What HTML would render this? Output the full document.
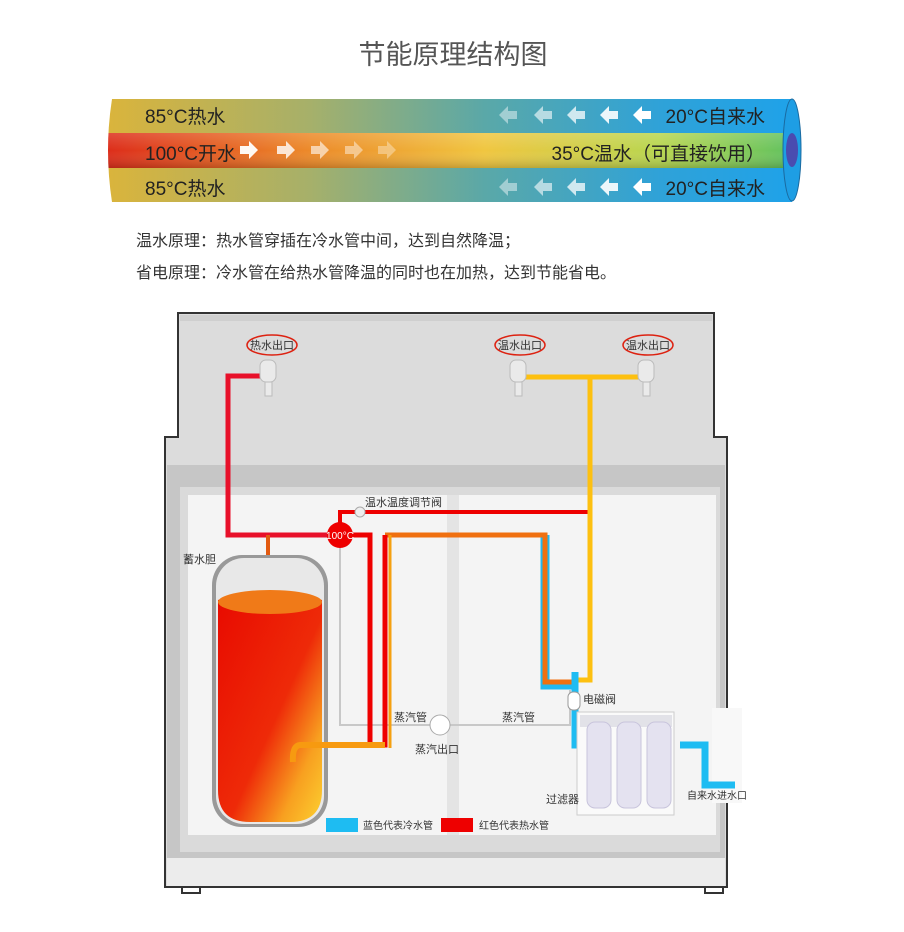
<!DOCTYPE html>
<html><head><meta charset="utf-8"><style>
body{margin:0;background:#fff;width:904px;height:927px;overflow:hidden;font-family:"Liberation Sans","Noto Sans CJK SC",sans-serif}
</style></head><body>
<svg width="904" height="927" viewBox="0 0 904 927" xmlns="http://www.w3.org/2000/svg" font-family="Liberation Sans, Noto Sans CJK SC, sans-serif">
<defs>
<linearGradient id="gt" x1="0" x2="1" y1="0" y2="0">
<stop offset="0" stop-color="#dcb43a"/><stop offset="0.3" stop-color="#a6b06a"/><stop offset="0.55" stop-color="#5aa8a8"/><stop offset="0.8" stop-color="#2fa2d8"/><stop offset="1" stop-color="#1ea2ea"/></linearGradient>
<linearGradient id="gm" x1="0" x2="1" y1="0" y2="0">
<stop offset="0" stop-color="#dc2a1a"/><stop offset="0.3" stop-color="#ec8a2a"/><stop offset="0.55" stop-color="#f0c640"/><stop offset="0.8" stop-color="#b8d650"/><stop offset="1" stop-color="#5cc060"/></linearGradient>
<linearGradient id="gmv" x1="0" x2="0" y1="0" y2="1">
<stop offset="0" stop-color="#fff" stop-opacity="0.15"/><stop offset="0.5" stop-color="#fff" stop-opacity="0"/><stop offset="1" stop-color="#000" stop-opacity="0.18"/></linearGradient>
<linearGradient id="tank" x1="0" x2="1" y1="0" y2="1">
<stop offset="0" stop-color="#e80a00"/><stop offset="0.55" stop-color="#ee2a08"/><stop offset="0.8" stop-color="#f8a020"/><stop offset="1" stop-color="#fcd030"/></linearGradient>
<clipPath id="bc"><path d="M112 99 L792 99 L792 202 L112 202 Q104 150 112 99 Z"/></clipPath>
</defs>
<text x="453" y="64" font-size="27" fill="#555" text-anchor="middle">节能原理结构图</text>
<g clip-path="url(#bc)">
<rect x="100" y="99" width="700" height="35" fill="url(#gt)"/>
<rect x="100" y="133" width="700" height="35" fill="url(#gm)"/>
<rect x="100" y="133" width="700" height="35" fill="url(#gmv)"/>
<rect x="100" y="168" width="700" height="34" fill="url(#gt)"/>
</g>
<ellipse cx="792" cy="150" rx="9" ry="51" fill="#1e9ee4" stroke="#1a6aa0" stroke-width="1"/>
<ellipse cx="792" cy="150" rx="6" ry="17" fill="#4a4cb0"/>
<g font-size="19" fill="#222">
<text x="145" y="123">85°C热水</text>
<text x="145" y="160">100°C开水</text>
<text x="145" y="195">85°C热水</text>
<text x="765" y="123" text-anchor="end">20°C自来水</text>
<text x="765" y="160" text-anchor="end">35°C温水（可直接饮用）</text>
<text x="765" y="195" text-anchor="end">20°C自来水</text>
</g>
<g fill="#fff">
<g opacity="0.95"><path d="M240 146h9v-5l9 9-9 9v-5h-9z"/></g>
<g opacity="0.8"><path d="M277 146h9v-5l9 9-9 9v-5h-9z"/></g>
<g opacity="0.6"><path d="M311 146h9v-5l9 9-9 9v-5h-9z"/></g>
<g opacity="0.45"><path d="M345 146h9v-5l9 9-9 9v-5h-9z"/></g>
<g opacity="0.35"><path d="M378 146h9v-5l9 9-9 9v-5h-9z"/></g>
<g id="la"><path d="M651 111h-9v-5l-9 9 9 9v-5h9z"/><path d="M618 111h-9v-5l-9 9 9 9v-5h9z" opacity=".9"/><path d="M585 111h-9v-5l-9 9 9 9v-5h9z" opacity=".75"/><path d="M552 111h-9v-5l-9 9 9 9v-5h9z" opacity=".6"/><path d="M517 111h-9v-5l-9 9 9 9v-5h9z" opacity=".45"/></g>
<use href="#la" y="72"/>
</g>
<g font-size="16" fill="#333">
<text x="136" y="246">温水原理：热水管穿插在冷水管中间，达到自然降温；</text>
<text x="136" y="278">省电原理：冷水管在给热水管降温的同时也在加热，达到节能省电。</text>
</g>
<path d="M178 313 H714 V437 H727 V887 H165 V437 H178 Z" fill="#dcdcdc" stroke="#333" stroke-width="2"/>
<rect x="180" y="315" width="532" height="6" fill="#cfcfcf"/>
<rect x="167" y="465" width="558" height="420" fill="#c6c6c6"/>
<rect x="167" y="858" width="558" height="28" fill="#ececec"/>
<rect x="180" y="487" width="540" height="365" fill="#dadada"/>
<rect x="188" y="495" width="528" height="340" fill="#f4f4f4"/>
<rect x="447" y="495" width="12" height="340" fill="#e4e4e4"/>
<path d="M182 887 v6 h18 v-6 M705 887 v6 h18 v-6" fill="none" stroke="#333" stroke-width="2"/>
<rect x="712" y="708" width="30" height="95" fill="#f8f8f8"/>
<g font-size="11" fill="#333" text-anchor="middle">
<ellipse cx="272" cy="345" rx="25" ry="10" fill="none" stroke="#d21" stroke-width="1.5"/><text x="272" y="349">热水出口</text>
<ellipse cx="520" cy="345" rx="25" ry="10" fill="none" stroke="#d21" stroke-width="1.5"/><text x="520" y="349">温水出口</text>
<ellipse cx="648" cy="345" rx="25" ry="10" fill="none" stroke="#d21" stroke-width="1.5"/><text x="648" y="349">温水出口</text>
</g>
<path d="M340 535 V725 H570 V690" fill="none" stroke="#c8c8c8" stroke-width="2"/>
<circle cx="440" cy="725" r="10" fill="#fff" stroke="#aaa"/>
<path d="M268 376 H228 V535 H340" fill="none" stroke="#e8102a" stroke-width="5"/>
<path d="M268 535 V595" stroke="#e25a10" stroke-width="4"/>
<path d="M340 535 V512 H590" fill="none" stroke="#e00" stroke-width="4"/>
<path d="M515 377 H645 M590 377 V680 H575" fill="none" stroke="#fdc010" stroke-width="5"/>
<path d="M545 535 V685 H577" fill="none" stroke="#22b8f0" stroke-width="9"/>
<path d="M385 535 H545 V682 H577" fill="none" stroke="#f07010" stroke-width="5"/>
<path d="M340 535 H370 V745 H385 V535" fill="none" stroke="#e00" stroke-width="5"/>
<path d="M390 535 V748" stroke="#f5a010" stroke-width="3"/>
<path d="M575 672 V745 H585 M680 745 H705 V785 H735" fill="none" stroke="#1ebcf2" stroke-width="7"/>
<rect x="568" y="692" width="12" height="18" rx="5" fill="#fff" stroke="#999"/>
<circle cx="340" cy="535" r="13" fill="#e00"/>
<text x="340" y="539" font-size="10" fill="#fff" text-anchor="middle">100°C</text>
<circle cx="360" cy="512" r="5" fill="#eee" stroke="#aaa"/>
<rect x="212" y="555" width="116" height="272" rx="30" fill="#999"/>
<rect x="216" y="558" width="108" height="266" rx="28" fill="#e8e8e8"/>
<path d="M218 600 Q270 585 322 600 V790 Q322 822 290 822 H250 Q218 822 218 790 Z" fill="url(#tank)"/>
<ellipse cx="270" cy="602" rx="52" ry="12" fill="#f07a18"/>
<path d="M385 745 H300 Q292 746 293 762" fill="none" stroke="#f79a10" stroke-width="6"/>
<rect x="577" y="712" width="97" height="103" fill="#fafafa" stroke="#ccc"/>
<rect x="580" y="715" width="92" height="12" fill="#e2e2e8"/>
<g fill="#e4e2f0" stroke="#c8c4dc">
<rect x="587" y="722" width="24" height="86" rx="8"/><rect x="617" y="722" width="24" height="86" rx="8"/><rect x="647" y="722" width="24" height="86" rx="8"/>
</g>
<g fill="#eaeaea" stroke="#bbb">
<rect x="260" y="360" width="16" height="22" rx="6"/><rect x="265" y="382" width="7" height="14"/>
<rect x="510" y="360" width="16" height="22" rx="6"/><rect x="515" y="382" width="7" height="14"/>
<rect x="638" y="360" width="16" height="22" rx="6"/><rect x="643" y="382" width="7" height="14"/>
</g>
<g font-size="11" fill="#333">
<text x="183" y="563">蓄水胆</text>
<text x="365" y="506">温水温度调节阀</text>
<text x="394" y="721">蒸汽管</text>
<text x="502" y="721">蒸汽管</text>
<text x="415" y="753">蒸汽出口</text>
<text x="583" y="703">电磁阀</text>
<text x="546" y="803">过滤器</text>
<text x="687" y="799" font-size="10">自来水进水口</text>
</g>
<rect x="326" y="818" width="32" height="14" fill="#1ebcf2"/>
<text x="363" y="829" font-size="10" fill="#333">蓝色代表冷水管</text>
<rect x="441" y="818" width="32" height="14" fill="#e00"/>
<text x="479" y="829" font-size="10" fill="#333">红色代表热水管</text>
</svg>
</body></html>
